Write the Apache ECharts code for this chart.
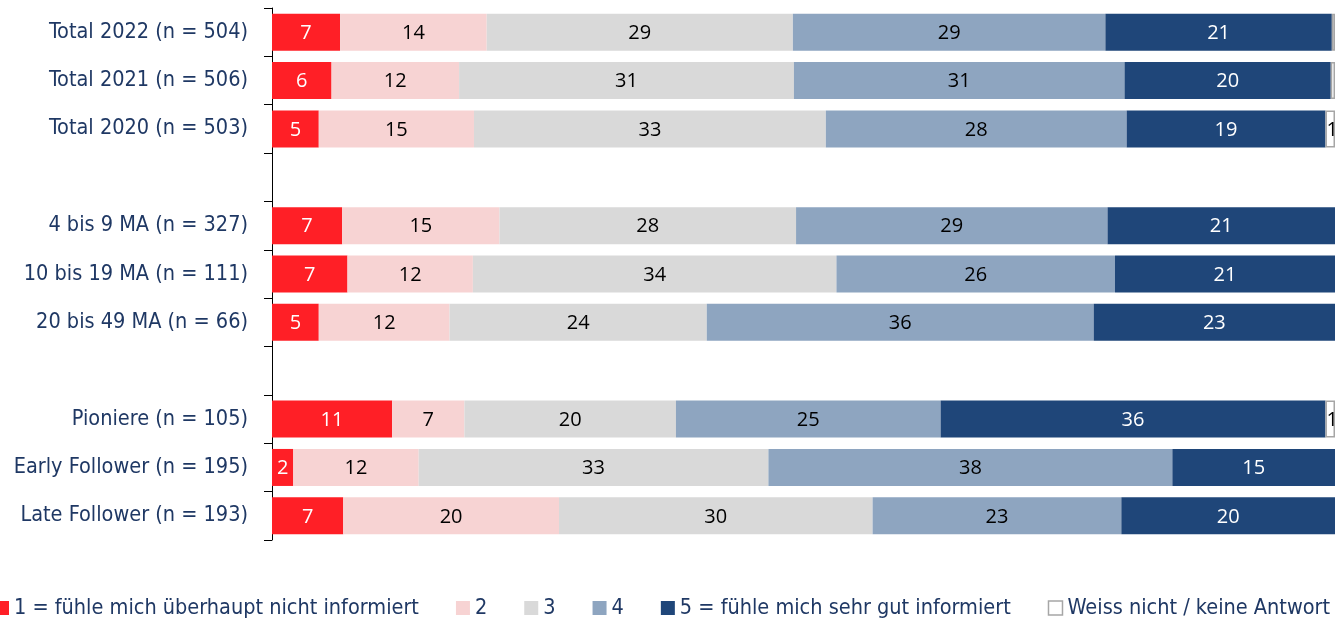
<!DOCTYPE html>
<html>
<head>
<meta charset="utf-8">
<script src="https://cdn.jsdelivr.net/npm/echarts@6/dist/echarts.min.js"></script>
<style>
  html, body { margin: 0; padding: 0; background: #fff; }
  #chart { width: 1342px; height: 624px; }
</style>
</head>
<body>
<div id="chart"></div>
<script>
// rows, top to bottom ('' = empty spacer row)
var categories = ['Total 2022 (n = 504)', 'Total 2021 (n = 506)', 'Total 2020 (n = 503)', '',
  '4 bis 9 MA (n = 327)', '10 bis 19 MA (n = 111)', '20 bis 49 MA (n = 66)', '',
  'Pioniere (n = 105)', 'Early Follower (n = 195)', 'Late Follower (n = 193)'];

var seriesNames = ['1 = fühle mich überhaupt nicht informiert', '2', '3', '4',
  '5 = fühle mich sehr gut informiert', 'Weiss nicht / keine Antwort'];

// bar lengths in percent
var v1 = [6.4, 5.6, 4.4, null, 6.6, 7.1, 4.4, null, 11.3, 2.0, 6.7];
var v2 = [13.8, 12.0, 14.6, null, 14.8, 11.8, 12.3, null, 6.8, 11.8, 20.3];
var v3 = [28.8, 31.5, 33.1, null, 27.9, 34.2, 24.2, null, 19.9, 32.9, 29.5];
var v4 = [29.4, 31.1, 28.3, null, 29.3, 26.2, 36.4, null, 24.9, 38.0, 23.4];
var v5 = [21.3, 19.4, 18.7, null, 21.4, 20.7, 22.7, null, 36.2, 15.3, 20.1];
var v6 = [0.3, 0.4, 0.9, null, null, null, null, null, 0.9, null, null];

// numbers printed in the bars
var t1 = [7, 6, 5, null, 7, 7, 5, null, 11, 2, 7];
var t2 = [14, 12, 15, null, 15, 12, 12, null, 7, 12, 20];
var t3 = [29, 31, 33, null, 28, 34, 24, null, 20, 33, 30];
var t4 = [29, 31, 28, null, 29, 26, 36, null, 25, 38, 23];
var t5 = [21, 20, 19, null, 21, 21, 23, null, 36, 15, 20];
var t6 = [null, null, 1, null, null, null, null, null, 1, null, null];

var colors = ['#ff1f26', '#f7d3d3', '#d9d9d9', '#8ea5c0', '#1f4679', '#ffffff'];
var textColors = ['#ffffff', '#000000', '#000000', '#000000', '#ffffff', '#000000'];

var values = [v1, v2, v3, v4, v5, v6];
var texts = [t1, t2, t3, t4, t5, t6];

var series = seriesNames.map(function (name, i) {
  return {
    name: name,
    type: 'bar',
    stack: 'all',
    barWidth: 37,
    data: values[i],
    itemStyle: {
      color: colors[i],
      borderColor: i === 5 ? '#a6a6a6' : null,
      borderWidth: i === 5 ? 1.5 : 0
    },
    label: {
      show: true,
      position: i === 5 ? 'insideLeft' : 'inside',
      offset: i === 5 ? [-4, 1] : [0, 1],
      color: textColors[i],
      fontFamily: 'Open Sans',
      fontSize: 20,
      formatter: function (p) {
        var t = texts[i][p.dataIndex];
        return t == null ? '' : String(t);
      }
    },
    emphasis: { disabled: true }
  };
});

var myChart = echarts.init(document.getElementById('chart'));
var option = {
  animation: false,
  color: colors,
  grid: { left: 272, right: 7, top: 8, bottom: 84 },
  legend: {
    left: -5,
    top: 597,
    width: 1400,
    padding: 0,
    itemWidth: 14,
    itemHeight: 14,
    itemGap: 37,
    icon: 'rect',
    textStyle: { color: '#1f3864', fontSize: 21.5, fontFamily: 'DejaVu Sans Condensed' },
    data: seriesNames.map(function (n, i) {
      return i === 5
        ? { name: n, itemStyle: { color: '#ffffff', borderColor: '#a6a6a6', borderWidth: 1.5 } }
        : { name: n };
    })
  },
  xAxis: {
    type: 'value',
    min: 0,
    max: 100,
    show: false
  },
  yAxis: {
    type: 'category',
    inverse: true,
    data: categories,
    axisLine: { show: true, lineStyle: { color: '#000', width: 1 } },
    axisTick: { show: true, length: 8, lineStyle: { color: '#000' } },
    axisLabel: {
      color: '#1f3864',
      fontSize: 21.5,
      fontFamily: 'DejaVu Sans Condensed',
      margin: 24
    }
  },
  series: series
};
myChart.setOption(option);
</script>
</body>
</html>
